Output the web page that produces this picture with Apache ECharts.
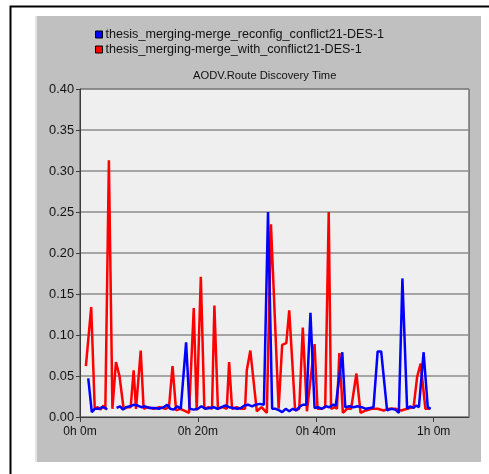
<!DOCTYPE html>
<html>
<head>
<meta charset="utf-8">
<script src="https://cdn.jsdelivr.net/npm/echarts@6/dist/echarts.min.js"></script>
<style>
  html, body { margin: 0; padding: 0; background: #fff; }
  #chart { width: 489px; height: 474px; }
</style>
</head>
<body>
<div id="chart"></div>
<script>
// legend names / title
var seriesNames = ['thesis_merging-merge_reconfig_conflict21-DES-1', 'thesis_merging-merge_with_conflict21-DES-1'];
var chartTitle = 'AODV.Route Discovery Time';

// x tick positions (minutes) and their labels
var xTicks = [0, 20, 40, 60];
var xTickLabels = ['0h 0m', '0h 20m', '0h 40m', '1h 0m'];

// blue series: reconfig (time in minutes, value in seconds), null = no data
var blueTimes = [1.4, 2.0, 2.5, 3.2, 3.8, 4.3, 4.6, 5.4, 6.2, 6.8, 7.3, 7.8, 8.5, 9.2, 9.8, 10.4, 11.0, 11.8, 12.6, 13.4,
  14.2, 14.8, 15.3, 15.9, 16.5, 17.1, 17.4, 18.0, 18.6, 19.3, 20.0, 20.6, 21.3, 22.0, 22.7, 23.3, 24.0, 24.7, 25.3, 26.0,
  26.7, 27.3, 27.9, 28.5, 29.2, 29.8, 30.5, 31.2, 31.5, 31.9, 32.6, 33.2, 33.8, 34.3, 34.9, 35.5, 36.1, 36.7, 37.3, 37.9,
  38.4, 39.1, 39.8, 40.4, 41.0, 41.7, 42.3, 42.9, 43.4, 44.5, 45.0, 45.7, 46.4, 47.1, 47.8, 48.5, 49.2, 49.8, 50.5, 51.1,
  52.1, 52.8, 53.5, 54.1, 54.7, 55.5, 56.0, 56.6, 57.0, 57.5, 58.3, 59.0, 59.5];
var blueValues = [0.047, 0.006, 0.010, 0.010, 0.012, 0.011, 0.009, null, 0.011, 0.013, 0.009, 0.012, 0.013, 0.015, 0.014, 0.012, 0.013, 0.011, 0.011, 0.010,
  0.012, 0.015, 0.010, 0.009, 0.013, 0.010, 0.008, 0.091, 0.010, 0.009, 0.010, 0.013, 0.010, 0.011, 0.012, 0.010, 0.012, 0.014, 0.012, 0.011,
  0.010, 0.011, 0.014, 0.015, 0.013, 0.015, 0.016, 0.015, 0.017, 0.250, 0.010, 0.010, 0.008, 0.006, 0.010, 0.007, 0.010, 0.008, 0.013, 0.015,
  0.015, 0.127, 0.011, 0.012, 0.010, 0.013, 0.012, 0.015, 0.014, 0.079, 0.012, 0.013, 0.012, 0.013, 0.012, 0.010, 0.011, 0.012, 0.080, 0.080,
  0.008, 0.010, 0.009, 0.005, 0.169, 0.010, 0.013, 0.011, 0.014, 0.012, 0.079, 0.012, 0.010];

// red series: with conflict
var redTimes = [1.0, 1.9, 2.5, 3.0, 3.5, 4.0, 4.3, 4.9, 5.5, 6.1, 6.7, 7.4, 8.0, 8.6, 9.1, 9.5, 10.3, 10.8, 11.5, 12.5,
  13.5, 14.5, 15.1, 15.7, 16.3, 17.0, 17.6, 18.5, 19.3, 19.8, 20.5, 21.1, 21.8, 22.4, 22.8, 23.4, 24.2, 24.9, 25.3, 25.8,
  26.6, 27.3, 28.0, 28.3, 28.9, 30.0, 30.8, 31.7, 32.4, 33.7, 34.3, 35.0, 35.5, 36.5, 37.2, 37.8, 38.5, 39.8, 40.3, 41.0,
  41.6, 42.2, 42.6, 43.2, 43.6, 44.0, 44.6, 45.3, 46.0, 46.9, 47.6, 48.5, 49.5, 50.5, 51.5, 52.5, 53.5, 54.5, 55.5, 56.6,
  57.2, 57.8, 58.1, 58.6, 59.4];
var redValues = [0.062, 0.134, 0.010, 0.012, 0.009, 0.014, 0.010, 0.313, 0.010, 0.067, 0.050, 0.010, 0.012, 0.012, 0.057, 0.010, 0.081, 0.010, 0.012, 0.010,
  0.012, 0.010, 0.012, 0.062, 0.008, 0.010, 0.008, 0.005, 0.133, 0.008, 0.171, 0.010, 0.012, 0.010, 0.136, 0.010, 0.012, 0.010, 0.067, 0.010,
  0.012, 0.010, 0.010, 0.057, 0.081, 0.007, 0.012, 0.005, 0.235, 0.010, 0.088, 0.090, 0.130, 0.008, 0.010, 0.109, 0.007, 0.089, 0.010, 0.010,
  0.012, 0.250, 0.010, 0.012, 0.010, 0.078, 0.005, 0.010, 0.010, 0.053, 0.005, 0.008, 0.010, 0.010, 0.008, 0.010, 0.010, 0.008, 0.010, 0.012,
  0.049, 0.065, 0.065, 0.010, 0.010];

function pairs(xs, ys) {
  return xs.map(function (x, i) { return [x, ys[i]]; });
}

var myChart = echarts.init(document.getElementById('chart'));
var font = '"Liberation Sans", Arial, sans-serif';

var option = {
  backgroundColor: '#ffffff',
  animation: false,
  graphic: [
    // outer black frame
    { type: 'rect', z: -10, shape: { x: 10.5, y: 6.5, width: 520, height: 520 },
      style: { fill: '#ffffff', stroke: '#000000', lineWidth: 2 } },
    // gray panel
    { type: 'rect', z: -9, shape: { x: 35, y: 16, width: 446, height: 446 },
      style: { fill: '#c0c0c0' } },
    { type: 'rect', z: -8, shape: { x: 35, y: 16, width: 2, height: 446 },
      style: { fill: '#e4e4e4' } },
    // title
    { type: 'text', z: 5, left: 193, top: 70,
      style: { text: chartTitle, fill: '#111', font: '11.2px ' + font } }
  ],
  legend: {
    orient: 'vertical',
    left: 90,
    top: 23,
    itemWidth: 7,
    itemHeight: 7,
    itemGap: 2,
    icon: 'rect',
    data: seriesNames,
    textStyle: { color: '#111', fontSize: 12.6, fontFamily: font, padding: [0, 0, 0, -2] },
    itemStyle: { borderColor: '#000', borderWidth: 1 }
  },
  grid: {
    left: 80,
    top: 89,
    width: 389,
    height: 328,
    show: true,
    backgroundColor: '#efefef',
    borderColor: '#3c3c3c',
    borderWidth: 1
  },
  xAxis: {
    type: 'value',
    min: 0,
    max: 66,
    interval: 20,
    axisLine: { show: true, onZero: false, lineStyle: { color: '#3c3c3c', width: 1 } },
    axisTick: { show: true, length: 5, customValues: xTicks, lineStyle: { color: '#3c3c3c' } },
    splitLine: { show: false },
    axisLabel: {
      customValues: xTicks,
      margin: 9,
      color: '#111',
      fontSize: 12,
      fontFamily: font,
      formatter: function (v) {
        var i = xTicks.indexOf(v);
        return i >= 0 ? xTickLabels[i] : '';
      }
    }
  },
  yAxis: {
    type: 'value',
    min: 0,
    max: 0.4,
    interval: 0.05,
    axisLine: { show: true, lineStyle: { color: '#3c3c3c', width: 1 } },
    axisTick: { show: true, length: 4, lineStyle: { color: '#3c3c3c' } },
    splitLine: { show: true, lineStyle: { color: '#8c8c8c', width: 1.5 } },
    axisLabel: {
      margin: 6,
      color: '#111',
      fontSize: 12.8,
      fontFamily: font,
      formatter: function (v) { return v.toFixed(2); }
    }
  },
  series: [
    {
      name: seriesNames[0],
      type: 'line',
      z: 4,
      data: pairs(blueTimes, blueValues),
      showSymbol: false,
      connectNulls: false,
      itemStyle: { color: '#0000ff' },
      lineStyle: { color: '#0000ff', width: 2.5 }
    },
    {
      name: seriesNames[1],
      type: 'line',
      z: 3,
      data: pairs(redTimes, redValues),
      showSymbol: false,
      itemStyle: { color: '#ff0000' },
      lineStyle: { color: '#ff0000', width: 2.5 }
    }
  ]
};

myChart.setOption(option);
</script>
</body>
</html>
